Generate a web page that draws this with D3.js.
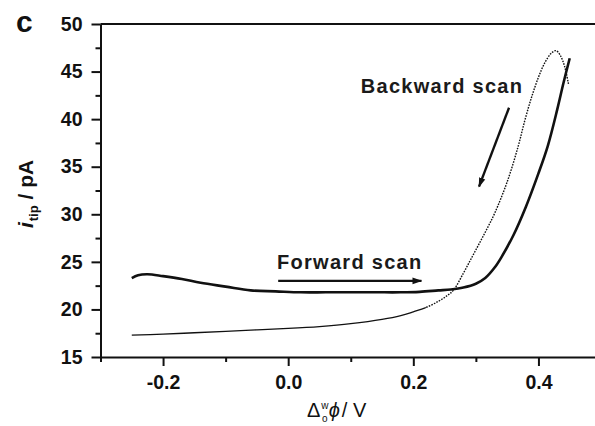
<!DOCTYPE html>
<html><head><meta charset="utf-8">
<script src="https://cdn.jsdelivr.net/npm/d3@7"></script>
<style>body{margin:0;background:#fff}svg{display:block}</style>
</head><body>
<svg id="c" width="595" height="426"></svg>
<script>
const forwardX = [-0.25,-0.24,-0.225,-0.2,-0.17,-0.14,-0.1,-0.06,-0.02,0.02,0.06,0.1,0.14,0.18,0.21,0.24,0.26,0.28,0.3,0.315,0.33,0.34,0.36,0.38,0.40,0.415,0.43,0.44,0.45];
const forwardY = [23.3,23.6,23.7,23.5,23.2,22.8,22.4,22.0,21.9,21.8,21.8,21.8,21.8,21.8,21.85,22.0,22.1,22.3,22.7,23.3,24.4,25.4,27.8,30.8,34.3,37.2,41.0,43.8,46.4];
const backwardX = [0.448,0.442,0.435,0.428,0.42,0.41,0.40,0.389,0.378,0.367,0.35,0.33,0.318,0.306,0.293,0.28,0.264,0.254,0.24,0.22,0.2,0.18,0.15,0.1,0.05,0.0,-0.05,-0.1,-0.15,-0.2,-0.25];
const backwardY = [43.7,45.5,46.7,47.2,46.9,45.9,44.4,42.3,39.8,37.0,33.4,30.1,28.5,27.0,25.4,23.8,22.0,21.45,20.85,20.2,19.75,19.35,18.95,18.5,18.2,18.0,17.85,17.7,17.55,17.4,17.3];
const xMajor = [-0.2,0.0,0.2,0.4];
const xMinor = [-0.3,-0.1,0.1,0.3,0.5];
const yMajor = [15,20,25,30,35,40,45,50];
const yMinor = [17.5,22.5,27.5,32.5,37.5,42.5,47.5];
const labels = [{text:"Backward scan",x:0.116,y:42.75},{text:"Forward scan",x:-0.018,y:24.25}];
const arrows = [{x1:0.353,y1:41.2,x2:0.305,y2:32.9},{x1:-0.016,y1:23.0,x2:0.213,y2:23.0}];
const solidBelow = 0.22; // backward scan points are dense (look solid) below this potential

const svg = d3.select("#c");
const x = d3.scaleLinear().domain([-0.3,0.5]).range([100.5,601]);
const y = d3.scaleLinear().domain([15,50]).range([357,24]);
const font = "'Liberation Sans', Arial, sans-serif";
const ink = "#111";

const defs = svg.append("defs");
defs.append("marker").attr("id","ah").attr("viewBox","0 0 12 10")
  .attr("refX",11).attr("refY",5).attr("markerWidth",4.2).attr("markerHeight",3.4)
  .attr("markerUnits","strokeWidth").attr("orient","auto")
  .append("path").attr("d","M0,1 L12,5 L0,9 Z").attr("fill",ink);
defs.append("clipPath").attr("id","lo").append("rect")
  .attr("x",0).attr("y",0).attr("width",x(solidBelow)).attr("height",426);
defs.append("clipPath").attr("id","hi").append("rect")
  .attr("x",x(solidBelow)).attr("y",0).attr("width",600).attr("height",426);

// frame top
svg.append("line").attr("x1",x(-0.3)).attr("x2",x(0.5)).attr("y1",y(50)).attr("y2",y(50))
  .attr("stroke",ink).attr("stroke-width",2);

function styleAxis(g){
  g.selectAll(".domain").attr("stroke",ink).attr("stroke-width",2);
  g.selectAll(".tick line").attr("stroke",ink).attr("stroke-width",2);
  g.selectAll("text").attr("font-family",font).attr("font-weight","bold").attr("font-size","19.5px").attr("fill",ink);
}
const gx = svg.append("g").attr("transform",`translate(0,${y(15)})`)
  .call(d3.axisBottom(x).tickValues(xMajor).tickSize(9).tickSizeOuter(0).tickPadding(9));
styleAxis(gx);
gx.selectAll("text").text(d=>d3.format(".1f")(d).replace("−","-"));
const gxm = svg.append("g").attr("transform",`translate(0,${y(15)})`)
  .call(d3.axisBottom(x).tickValues(xMinor).tickSize(5).tickSizeOuter(0).tickFormat(""));
styleAxis(gxm); gxm.select(".domain").remove();

const gy = svg.append("g").attr("transform",`translate(${x(-0.3)},0)`)
  .call(d3.axisLeft(y).tickValues(yMajor).tickSize(9).tickSizeOuter(0).tickPadding(9));
styleAxis(gy);
const gym = svg.append("g").attr("transform",`translate(${x(-0.3)},0)`)
  .call(d3.axisLeft(y).tickValues(yMinor).tickSize(5).tickSizeOuter(0).tickFormat(""));
styleAxis(gym); gym.select(".domain").remove();

const line = d3.line().x(d=>x(d[0])).y(d=>y(d[1])).curve(d3.curveCatmullRom.alpha(0.5));
const back = backwardX.map((v,i)=>[v,backwardY[i]]);
svg.append("path").datum(back).attr("d",line).attr("clip-path","url(#lo)")
  .attr("fill","none").attr("stroke",ink).attr("stroke-width",1.3);
svg.append("path").datum(back).attr("d",line).attr("clip-path","url(#hi)")
  .attr("fill","none").attr("stroke",ink).attr("stroke-width",1.4).attr("stroke-dasharray","1.6,1.2");
svg.append("path").datum(forwardX.map((v,i)=>[v,forwardY[i]])).attr("d",line)
  .attr("fill","none").attr("stroke",ink).attr("stroke-width",2.6);

arrows.forEach(a=>{
  svg.append("line").attr("x1",x(a.x1)).attr("y1",y(a.y1)).attr("x2",x(a.x2)).attr("y2",y(a.y2))
    .attr("stroke",ink).attr("stroke-width",2.4).attr("marker-end","url(#ah)");
});
labels.forEach(l=>{
  svg.append("text").attr("x",x(l.x)).attr("y",y(l.y)).text(l.text)
    .attr("font-family",font).attr("font-weight","bold").attr("font-size","20px")
    .attr("letter-spacing","1.3px").attr("fill","#1a1a1a");
});

// panel letter
svg.append("text").attr("x",16).attr("y",32).text("c")
  .attr("font-family",font).attr("font-weight","bold").attr("font-size","30px").attr("fill",ink);

// y title
const yt = svg.append("text").attr("transform","translate(33,194) rotate(-90)").attr("text-anchor","middle")
  .attr("font-family",font).attr("font-weight","bold").attr("font-size","21px").attr("fill",ink);
yt.append("tspan").attr("font-style","italic").text("i");
yt.append("tspan").attr("font-size","13px").attr("dy",5).attr("dx",1).text("tip");
yt.append("tspan").attr("dy",-5).text(" / pA");

// x title
const xt = svg.append("text").attr("x",307).attr("y",417)
  .attr("font-family",font).attr("font-size","20px").attr("fill",ink);
xt.append("tspan").text("Δ");
xt.append("tspan").attr("font-size","10px").attr("dy",-8).attr("dx",1).text("w");
xt.append("tspan").attr("font-size","10px").attr("dy",13).attr("dx",-6.5).text("o");
xt.append("tspan").attr("font-style","italic").attr("dy",-5).attr("dx",1).text("ϕ");
xt.append("tspan").attr("dx",2).text("/ V");
</script>
</body></html>
